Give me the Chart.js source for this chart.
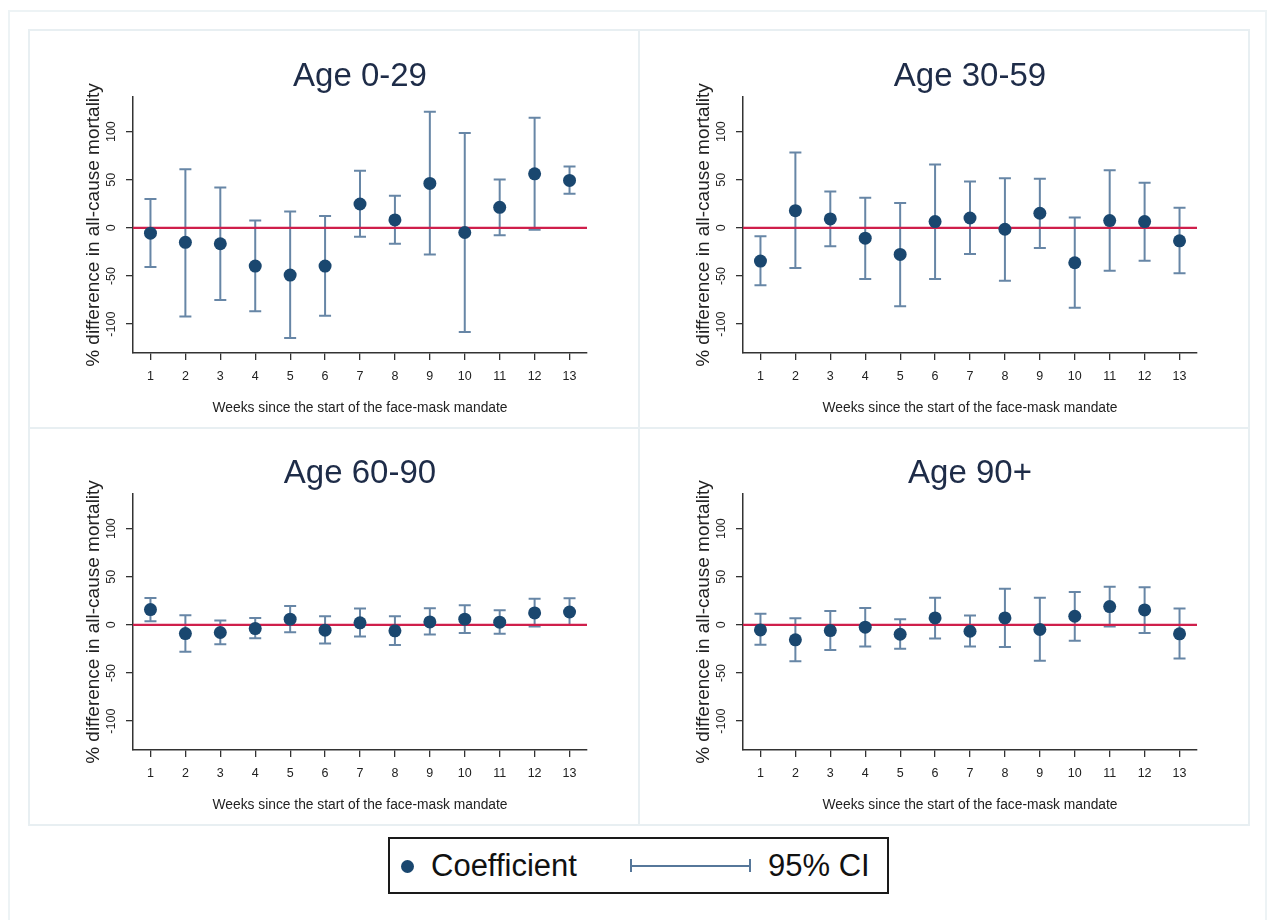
<!DOCTYPE html>
<html>
<head>
<meta charset="utf-8">
<script src="https://cdn.jsdelivr.net/npm/chart.js@4.4.1/dist/chart.umd.min.js"></script>
<style>
  body { margin: 0; background: #fff; width: 1268px; height: 920px; position: relative; overflow: hidden; font-family: "Liberation Sans", Arial, sans-serif; }
  #outer { position: absolute; left: 8px; top: 10px; width: 1259px; height: 930px; border: 2px solid #edf3f5; box-sizing: border-box; }
  .box { position: absolute; border: 2px solid #e8eff2; box-sizing: border-box; }
  canvas { position: absolute; }
  #legend { position: absolute; left: 388px; top: 837px; width: 501px; height: 57px; border: 2px solid #1a1a1a; box-sizing: border-box; }
  #legend .dot { position: absolute; left: 11px; top: 21px; width: 13px; height: 13px; border-radius: 50%; background: #1a476f; }
  #legend .txt { position: absolute; top: 11px; font-size: 31px; line-height: 31px; color: #111; }
  #legend .ci { position: absolute; left: 240px; top: 20px; width: 121px; height: 13px; }
  #legend .ci .bar { position: absolute; left: 0; right: 0; top: 5.5px; height: 2px; background: #56779a; }
  #legend .ci .cap { position: absolute; top: 0; width: 2px; height: 13px; background: #56779a; }
</style>
</head>
<body>
<div id="outer"></div>
<div class="box" style="left:28px;top:29px;width:612px;height:400px"></div>
<div class="box" style="left:638px;top:29px;width:612px;height:400px"></div>
<div class="box" style="left:28px;top:427px;width:612px;height:399px"></div>
<div class="box" style="left:638px;top:427px;width:612px;height:399px"></div>
<canvas id="p1" width="608" height="397" style="left:30px;top:30px"></canvas>
<canvas id="p2" width="608" height="397" style="left:640px;top:30px"></canvas>
<canvas id="p3" width="608" height="397" style="left:30px;top:427px"></canvas>
<canvas id="p4" width="608" height="397" style="left:640px;top:427px"></canvas>
<div id="legend">
  <div class="dot"></div>
  <div class="txt" style="left:41px">Coefficient</div>
  <div class="ci"><div class="bar"></div><div class="cap" style="left:0"></div><div class="cap" style="right:0"></div></div>
  <div class="txt" style="left:378px">95% CI</div>
</div>
<script>
const weeks = [1, 2, 3, 4, 5, 6, 7, 8, 9, 10, 11, 12, 13];
const yTicks = [-100, -50, 0, 50, 100];

const age0029Coef = [-5.5, -15, -16.5, -39.7, -49, -39.7, 24.8, 8.3, 46.2, -4.8, 21.4, 56.2, 49.3];
const age0029Lo = [-40.7, -92, -75, -86.6, -114.5, -91.4, -9.3, -16.6, -27.6, -108.3, -7.6, -2, 35.5];
const age0029Hi = [30, 61, 42, 7.6, 17, 12.4, 59.3, 33.4, 120.7, 98.6, 50.3, 114.5, 63.8];

const age3059Coef = [-34.5, 17.9, 9.3, -10.7, -27.6, 6.6, 10.3, -1.4, 15.2, -36.2, 7.6, 6.6, -13.4];
const age3059Lo = [-59.7, -41.7, -19, -53.1, -81.4, -53.1, -27.2, -54.8, -21, -83.1, -44.5, -34.1, -47.2];
const age3059Hi = [-8.6, 78.3, 37.9, 31.4, 25.9, 65.9, 48.3, 51.7, 51, 10.7, 60, 46.9, 21];

const age6090Coef = [15.9, -9, -7.9, -3.8, 5.9, -5.5, 2.1, -6.2, 3.1, 5.9, 2.8, 12.4, 13.4];
const age6090Lo = [3.8, -27.9, -20, -13.8, -7.6, -19.3, -12.1, -21, -10, -8.3, -9.3, -1.7, 0];
const age6090Hi = [27.9, 10, 4.5, 7.2, 19.7, 9, 16.9, 9, 17.2, 20.3, 15.2, 27.2, 27.6];

const age90Coef = [-5.2, -15.5, -5.9, -2.4, -9.7, 7.2, -6.6, 7.2, -4.8, 9, 19, 15.5, -9.3];
const age90Lo = [-20.7, -37.9, -26.2, -22.4, -24.8, -14.1, -22.4, -23.1, -37.2, -16.6, -1.7, -8.3, -34.8];
const age90Hi = [11.7, 6.9, 14.5, 17.6, 5.9, 28.3, 9.7, 37.6, 28.3, 34.1, 39.7, 39, 16.9];

const FONT = '"Liberation Sans", Arial, sans-serif';
const AXIS = "#333333";

// confidence intervals + zero line, drawn under the markers
const ciPlugin = {
  id: "ciPlugin",
  beforeDatasetsDraw(chart) {
    const { ctx, chartArea } = chart;
    const xs = chart.scales.x, ys = chart.scales.y;
    const lo = chart.options.plugins.ciPlugin.lo;
    const hi = chart.options.plugins.ciPlugin.hi;
    ctx.save();
    ctx.strokeStyle = "#6786a6";
    ctx.lineWidth = 2;
    weeks.forEach((w, i) => {
      const px = xs.getPixelForValue(w);
      const pLo = ys.getPixelForValue(lo[i]);
      const pHi = ys.getPixelForValue(hi[i]);
      ctx.beginPath();
      ctx.moveTo(px, pLo); ctx.lineTo(px, pHi);
      ctx.moveTo(px - 6, pLo); ctx.lineTo(px + 6, pLo);
      ctx.moveTo(px - 6, pHi); ctx.lineTo(px + 6, pHi);
      ctx.stroke();
    });
    const p0 = ys.getPixelForValue(0);
    ctx.strokeStyle = "#cf1f4b";
    ctx.lineWidth = 2.2;
    ctx.beginPath();
    ctx.moveTo(chartArea.left, p0);
    ctx.lineTo(chartArea.right, p0);
    ctx.stroke();
    ctx.restore();
  }
};

// panel title and vertical y tick labels
const textPlugin = {
  id: "textPlugin",
  afterDraw(chart) {
    const { ctx, chartArea } = chart;
    const ys = chart.scales.y;
    ctx.save();
    ctx.fillStyle = "#1e2c48";
    ctx.font = "33px " + FONT;
    ctx.textAlign = "center";
    ctx.textBaseline = "alphabetic";
    ctx.fillText(chart.options.plugins.textPlugin.title, (chartArea.left + chartArea.right) / 2, chartArea.top - 11);

    ctx.fillStyle = "#222";
    ctx.font = "12.5px " + FONT;
    ctx.textBaseline = "middle";
    ys.ticks.forEach(t => {
      ctx.save();
      ctx.translate(chartArea.left - 21, ys.getPixelForValue(t.value));
      ctx.rotate(-Math.PI / 2);
      ctx.fillText(String(t.value), 0, 0);
      ctx.restore();
    });
    ctx.restore();
  }
};

function makePanel(id, title, coef, lo, hi) {
  const ctx = document.getElementById(id).getContext("2d");
  return new Chart(ctx, {
    type: "scatter",
    data: {
      datasets: [{
        data: weeks.map((w, i) => ({ x: w, y: coef[i] })),
        backgroundColor: "#1a476f",
        borderColor: "#1a476f",
        pointRadius: 6.5,
        pointBorderWidth: 0
      }]
    },
    options: {
      responsive: false,
      animation: false,
      devicePixelRatio: 1,
      layout: { padding: { left: 50, right: 51, top: 67, bottom: 11 } },
      plugins: {
        legend: { display: false },
        tooltip: { enabled: false },
        ciPlugin: { lo: lo, hi: hi },
        textPlugin: { title: title }
      },
      scales: {
        x: {
          type: "linear",
          min: 0.5,
          max: 13.5,
          afterBuildTicks: s => { s.ticks = weeks.map(v => ({ value: v })); },
          afterFit: s => { s.height = 63; },
          grid: { display: true, drawOnChartArea: false, drawTicks: true, tickLength: 7, color: AXIS, lineWidth: 1.3 },
          border: { display: true, color: AXIS, width: 1.5 },
          ticks: { padding: 9, color: "#222", font: { family: FONT, size: 12.5 }, maxRotation: 0 },
          title: { display: true, text: "Weeks since the start of the face-mask mandate", color: "#222", font: { family: FONT, size: 13.8 }, padding: { top: 0, bottom: 0 } }
        },
        y: {
          type: "linear",
          min: -130,
          max: 136,
          afterBuildTicks: s => { s.ticks = yTicks.map(v => ({ value: v })); },
          afterFit: s => { s.width = 53; },
          grid: { display: true, drawOnChartArea: false, drawTicks: true, tickLength: 7, color: AXIS, lineWidth: 1.3 },
          border: { display: true, color: AXIS, width: 1.5 },
          ticks: { display: false },
          title: { display: true, text: "% difference in all-cause mortality", color: "#222", font: { family: FONT, size: 19 }, padding: { top: 2, bottom: 0 } }
        }
      }
    },
    plugins: [ciPlugin, textPlugin]
  });
}

makePanel("p1", "Age 0-29", age0029Coef, age0029Lo, age0029Hi);
makePanel("p2", "Age 30-59", age3059Coef, age3059Lo, age3059Hi);
makePanel("p3", "Age 60-90", age6090Coef, age6090Lo, age6090Hi);
makePanel("p4", "Age 90+", age90Coef, age90Lo, age90Hi);
</script>
</body>
</html>
